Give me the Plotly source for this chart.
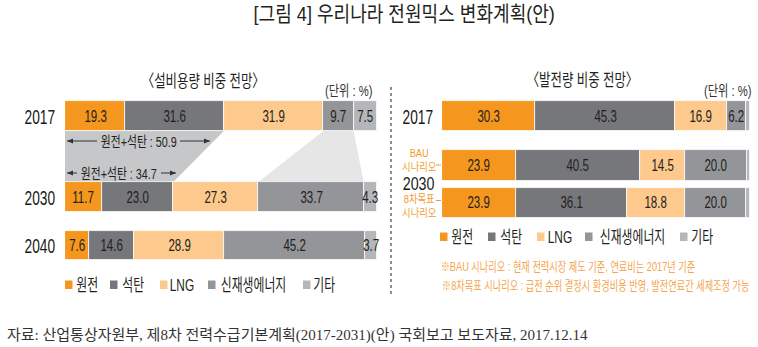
import json
import plotly.graph_objects as go

W, H = 758, 347

# 설비용량 비중 전망 (%)
cap_years = ['2017', '2030', '2040']
cap_nuclear = [19.3, 11.7, 7.6]
cap_coal = [31.6, 23.0, 14.6]
cap_lng = [31.9, 27.3, 28.9]
cap_renew = [9.7, 33.7, 45.2]
cap_other = [7.5, 4.3, 3.7]

# 발전량 비중 전망 (%): 2017, 2030 BAU 시나리오, 2030 8차목표 시나리오
gen_rows = ['2017', '2030 BAU', '2030 8차목표']
gen_nuclear = [30.3, 23.9, 23.9]
gen_coal = [45.3, 40.5, 36.1]
gen_lng = [16.9, 14.5, 18.8]
gen_renew = [6.2, 20.0, 20.0]
gen_other = [1.3, 1.1, 1.2]

sources = ['원전', '석탄', 'LNG', '신재생에너지', '기타']

# ---- layout / style ----
COLORS = ['#f5961f', '#76777a', '#fdc98d', '#939598', '#b5b6b9']
FONT = 'Liberation Sans, Noto Sans CJK KR, sans-serif'
SERIF = 'Liberation Serif, Noto Sans CJK KR, serif'
TXT = '#231f20'
ORANGE_TXT = '#f39a2e'
NOTE_TXT = '#f6a54e'

cap_y = [116, 197, 245.5]
cap_h = [30, 30, 29]
gen_y = [116, 165, 202.5]
gen_h = [30, 31, 30]

cap_series = [cap_nuclear, cap_coal, cap_lng, cap_renew, cap_other]
gen_series = [gen_nuclear, gen_coal, gen_lng, gen_renew, gen_other]


def bases(series):
    out, run = [], [0.0] * len(series[0])
    for s in series:
        out.append(list(run))
        run = [a + b for a, b in zip(run, s)]
    return out


cap_base = bases(cap_series)
gen_base = bases(gen_series)

fig = go.Figure()

for i, name in enumerate(sources):
    fig.add_trace(go.Bar(
        orientation='h', x=cap_series[i], base=cap_base[i], y=cap_y, width=cap_h,
        marker=dict(color=COLORS[i], line=dict(color='white', width=0.8)),
        name=name, showlegend=False, hoverinfo='skip', xaxis='x', yaxis='y'))
    fig.add_trace(go.Bar(
        orientation='h', x=gen_series[i], base=gen_base[i], y=gen_y, width=gen_h,
        marker=dict(color=COLORS[i], line=dict(color='white', width=0.8)),
        name=name, showlegend=False, hoverinfo='skip', xaxis='x2', yaxis='y'))

annotations = []
condense = []   # horizontal glyph scale per annotation (condensed gothic look)
shapes = []


def px(x):
    return x / W


def text(x, y, s, size, color=TXT, family=FONT, xref='paper', c=0.72):
    annotations.append(dict(
        x=px(x) if xref == 'paper' else x, y=y, xref=xref, yref='y', text=s,
        showarrow=False, xanchor='center', yanchor='middle',
        font=dict(size=size, color=color, family=family)))
    condense.append(c)


# value labels centred in each segment
for i in range(5):
    for r in range(3):
        v = cap_series[i][r]
        text(cap_base[i][r] + v / 2, cap_y[r], f'{v:.1f}', 16, xref='x')
for i in range(4):
    for r in range(3):
        v = gen_series[i][r]
        text(gen_base[i][r] + v / 2, gen_y[r], f'{v:.1f}', 16, xref='x2')

# connecting bands between 2017 and 2030 (설비용량)
top = cap_y[0] + cap_h[0] / 2
bot = cap_y[1] - cap_h[1] / 2
nc17 = cap_nuclear[0] + cap_coal[0]
nc30 = cap_nuclear[1] + cap_coal[1]
shapes.append(dict(
    type='path', xref='x', yref='y', layer='below', line=dict(width=0),
    fillcolor='#c6c7c9',
    path=f'M 0 {top} L {nc17} {top} L {nc30} {bot} L 0 {bot} Z'))
r17s = cap_base[3][0]
r17e = r17s + cap_renew[0]
r30s = cap_base[3][1]
r30e = r30s + cap_renew[1]
shapes.append(dict(
    type='path', xref='x', yref='y', layer='below', line=dict(width=0),
    fillcolor='#e6e6e7',
    path=f'M {r17s} {top} L {r17e} {top} L {r30e} {bot} L {r30s} {bot} Z'))


def arrow_line(x0, x1, y, head_left):
    shapes.append(dict(type='line', xref='paper', yref='y', x0=px(x0), x1=px(x1),
                       y0=y, y1=y, line=dict(color='#333333', width=1)))
    hx = x0 if head_left else x1
    d = 6 if head_left else -6
    shapes.append(dict(type='path', xref='paper', yref='y', line=dict(width=0),
                       fillcolor='#333333',
                       path=f'M {px(hx)} {y} L {px(hx + d)} {y - 2.6} L {px(hx + d)} {y + 2.6} Z'))


arrow_line(67, 97, 141, True)
arrow_line(180, 210, 141, False)
text(138.5, 141, f'원전+석탄 : {nc17:.1f}', 15)
arrow_line(67, 77, 173, True)
arrow_line(161, 176, 173, False)
text(119, 173, f'원전+석탄 : {nc30:.1f}', 15)

# titles
text(404, 13.5, '[그림 4] 우리나라 전원믹스 변화계획(안)', 21, c=0.86)
text(203.5, 81, '〈설비용량 비중 전망〉', 17, c=0.73)
text(348.5, 90, '(단위 : %)', 15, color='#333333', c=0.75)
text(582, 80, '〈발전량 비중 전망〉', 17, c=0.73)
text(727, 90, '(단위 : %)', 15, color='#333333', c=0.75)

# row labels
for yr, y in zip(cap_years, cap_y):
    text(40, y, yr, 20.5, color='#1a1a1a', c=0.67)
text(417.5, gen_y[0], '2017', 20.5, color='#1a1a1a', c=0.67)
text(418.5, 183, '2030', 18.5, color='#1a1a1a', c=0.77)
text(418.5, 159.5, 'BAU<br>시나리오', 11, color=ORANGE_TXT, c=0.85)
text(418.5, 206, '8차목표<br>시나리오', 11, color=ORANGE_TXT, c=0.85)
for y in (165, 200.5):
    shapes.append(dict(type='line', xref='paper', yref='y', x0=px(436), x1=px(441),
                       y0=y, y1=y, line=dict(color=ORANGE_TXT, width=1)))


# legends
def legend(items_x, text_w, y):
    for i, (sx, tw) in enumerate(zip(items_x, text_w)):
        shapes.append(dict(type='rect', xref='paper', yref='y', x0=px(sx), x1=px(sx + 7.5),
                           y0=y - 4.5, y1=y + 4, fillcolor=COLORS[i], line=dict(width=0)))
        text(sx + 9 + tw / 2, y, sources[i], 16.5)


legend([65, 110, 160, 208, 303], [25, 27, 25, 73, 24], 285)
legend([440, 488, 537, 585, 680], [26, 27, 27, 76, 25], 237)

# scenario notes
text(568, 266, '※BAU 시나리오 : 현재 전력시장 제도 기준, 연료비는 2017년 기준', 12.8, color=NOTE_TXT)
text(595.5, 285, '※8차목표 시나리오 : 급전 순위 결정시 환경비용 반영, 발전연료간 세제조정 가능', 12.8, color=NOTE_TXT)

# divider
shapes.append(dict(type='line', xref='paper', yref='y', x0=px(391), x1=px(391), y0=87, y1=295,
                   line=dict(color='#8e8e8e', width=2, dash='dot')))

# source
text(297, 335, '자료: 산업통상자원부, 제8차 전력수급기본계획(2017-2031)(안) 국회보고 보도자료, 2017.12.14',
     15, color='#333333', family=SERIF, c=1.0)

fig.update_layout(
    width=W, height=H, margin=dict(l=0, r=0, t=0, b=0),
    paper_bgcolor='white', plot_bgcolor='rgba(0,0,0,0)',
    barmode='overlay', bargap=0, showlegend=False,
    xaxis=dict(domain=[65 / W, 377 / W], range=[0, 100], visible=False, fixedrange=True),
    xaxis2=dict(domain=[442 / W, 750 / W], range=[0, 100], visible=False, anchor='y', fixedrange=True),
    yaxis=dict(domain=[0, 1], range=[H, 0], visible=False, fixedrange=True),
    annotations=annotations, shapes=shapes,
)

# narrow the glyphs of each annotation around its own centre
js = """
var cs = __CS__;
var gd = document.getElementById('{plot_id}');
function narrow() {
  var groups = gd.querySelectorAll('g.annotation');
  groups.forEach(function (g, k) {
    var idx = g.getAttribute('data-index');
    var i = idx === null ? k : +idx;
    var t = g.querySelector('.annotation-text');
    if (t && cs[i] !== undefined) {
      t.style.transformBox = 'fill-box';
      t.style.transformOrigin = 'center';
      t.style.transform = 'scaleX(' + cs[i] + ')';
    }
  });
}
narrow();
if (gd.on) { gd.on('plotly_afterplot', narrow); }
""".replace('__CS__', json.dumps(condense))

fig.write_html("out.html", config={'displayModeBar': False}, post_script=js)
